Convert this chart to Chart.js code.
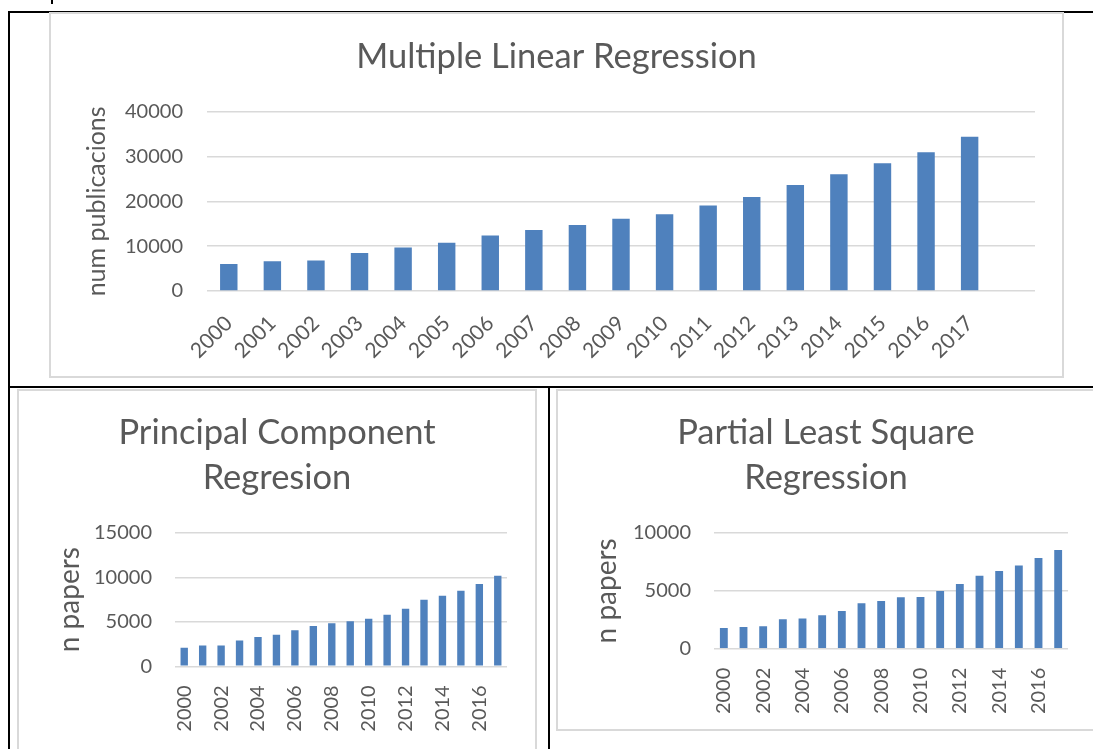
<!DOCTYPE html>
<html lang="en">
<head>
  <meta charset="UTF-8" />
  <title>Regression publications</title>
  <script src="https://cdn.jsdelivr.net/npm/chart.js"></script>
  <style>
    body {
      margin: 0;
      background: #fff;
      width: 1093px;
      height: 749px;
      overflow: hidden;
      position: relative;
      font-family: Lato, sans-serif;
    }
    .rule { position: absolute; background: #000; }
    .box {
      position: absolute;
      box-sizing: border-box;
      border: 2px solid #d9d9d9;
      background: #fff;
    }
  </style>
</head>
<body>
  <div class="rule" style="left:51px;top:0;width:2px;height:4px"></div>
  <div class="rule" style="left:8px;top:11px;width:1085px;height:2px"></div>
  <div class="rule" style="left:8px;top:11px;width:2px;height:738px"></div>
  <div class="rule" style="left:8px;top:386px;width:1085px;height:2px"></div>
  <div class="rule" style="left:548px;top:386px;width:2px;height:363px"></div>

  <div class="box" style="left:49px;top:12px;width:1015px;height:366px"><canvas id="mlr"></canvas></div>
  <div class="box" style="left:17px;top:389px;width:520px;height:372px"><canvas id="pcr"></canvas></div>
  <div class="box" style="left:556px;top:389px;width:546px;height:342px"><canvas id="pls"></canvas></div>

  <script>
    const years = ["2000", "2001", "2002", "2003", "2004", "2005", "2006", "2007", "2008",
                   "2009", "2010", "2011", "2012", "2013", "2014", "2015", "2016", "2017"];
    const mlrValues = [6000, 6650, 6800, 8500, 9700, 10750, 12400, 13600, 14700,
                       16100, 17150, 19050, 20950, 23650, 26050, 28500, 30950, 34400];
    const pcrValues = [2100, 2330, 2330, 2900, 3300, 3560, 4050, 4530, 4830,
                       5060, 5360, 5810, 6480, 7490, 7940, 8500, 9250, 10190];
    const plsValues = [1790, 1870, 1930, 2540, 2620, 2880, 3260, 3920, 4120,
                       4440, 4470, 4990, 5590, 6310, 6710, 7200, 7840, 8530];

    const textColor = "#595959";
    const barColor = "#4f81bd";
    const gridColor = "#d9d9d9";
    Chart.defaults.font.family = "Lato, sans-serif";
    Chart.defaults.color = textColor;

    function makeChart(id, cfg) {
      return new Chart(document.getElementById(id), {
        type: "bar",
        data: {
          labels: cfg.labels,
          datasets: [{
            data: cfg.values,
            backgroundColor: barColor,
            barPercentage: 0.4,
            categoryPercentage: 1
          }]
        },
        options: {
          responsive: true,
          maintainAspectRatio: false,
          animation: false,
          layout: { padding: { left: cfg.side, right: cfg.rightPad, top: 0, bottom: 0 } },
          plugins: {
            legend: { display: false },
            tooltip: { enabled: false },
            title: {
              display: true,
              text: cfg.title,
              color: textColor,
              font: { size: 34.5, weight: "normal", lineHeight: cfg.titleLine },
              padding: { top: cfg.titleTop, bottom: cfg.titleBottom }
            }
          },
          scales: {
            x: {
              grid: { display: false },
              border: { display: false },
              ticks: {
                autoSkip: false,
                minRotation: cfg.rotation,
                maxRotation: cfg.rotation,
                padding: cfg.xPad,
                font: { size: cfg.xFont },
                callback: function (v, i) {
                  const lab = this.getLabelForValue(v);
                  return (cfg.every === 2 && i % 2) ? "" : lab;
                }
              },
              afterFit: s => { s.height = cfg.xHeight; }
            },
            y: {
              min: 0,
              max: cfg.max,
              grid: { color: gridColor, lineWidth: 1.5, drawTicks: false },
              border: { display: false },
              ticks: {
                stepSize: cfg.step,
                padding: cfg.yPad,
                font: { size: 20 },
                callback: v => String(v)
              },
              title: {
                display: true,
                text: cfg.yTitle,
                color: textColor,
                font: { size: cfg.yTitleSize },
                padding: { top: cfg.yTitleTop, bottom: 0 }
              },
              afterFit: s => { s.width = cfg.yWidth; }
            }
          }
        }
      });
    }

    makeChart("mlr", {
      labels: years.concat([""]),
      values: mlrValues,
      title: "Multiple Linear Regression",
      titleLine: 1.2, titleTop: 22.3, titleBottom: 34,
      side: 27, rightPad: 27,
      yWidth: 129, yPad: 24, yTitle: "num publicacions", yTitleSize: 25, yTitleTop: 4,
      xHeight: 85, xPad: 12, xFont: 21, rotation: 45, every: 1,
      max: 40000, step: 10000
    });

    makeChart("pcr", {
      labels: years,
      values: pcrValues,
      title: ["Principal Component", "Regresion"],
      titleLine: 1.304, titleTop: 19.5, titleBottom: 32.5,
      side: 28, rightPad: 28,
      yWidth: 128, yPad: 23, yTitle: "n papers", yTitleSize: 28, yTitleTop: 6,
      xHeight: 92.7, xPad: 11, xFont: 20, rotation: 90, every: 2,
      max: 15000, step: 5000
    });

    makeChart("pls", {
      labels: years,
      values: plsValues,
      title: ["Partial Least Square", "Regression"],
      titleLine: 1.304, titleTop: 19.5, titleBottom: 32.5,
      side: 26, rightPad: 32,
      yWidth: 130, yPad: 23, yTitle: "n papers", yTitleSize: 28, yTitleTop: 6,
      xHeight: 80.3, xPad: 11, xFont: 20, rotation: 90, every: 2,
      max: 10000, step: 5000
    });
  </script>
</body>
</html>
